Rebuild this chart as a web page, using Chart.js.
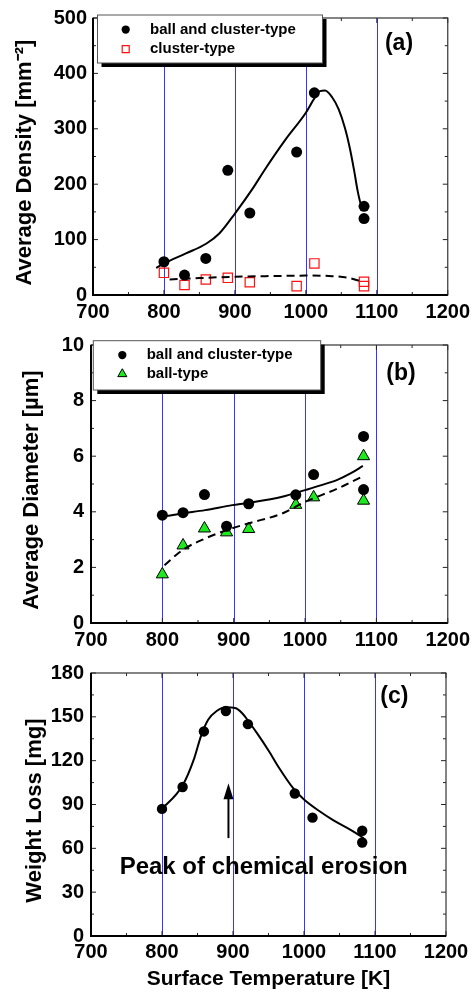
<!DOCTYPE html>
<html>
<head>
<meta charset="utf-8">
<script src="https://cdn.jsdelivr.net/npm/chart.js@4.4.1/dist/chart.umd.min.js"></script>
<style>
  html, body { margin: 0; padding: 0; background: #fff; }
  body { width: 475px; height: 994px; position: relative; overflow: hidden; }
  canvas { position: absolute; left: 0; }
</style>
</head>
<body>
<canvas id="chartA" width="475" height="322" style="top:0px"></canvas>
<canvas id="chartB" width="475" height="330" style="top:322px"></canvas>
<canvas id="chartC" width="475" height="342" style="top:652px"></canvas>
<script>
// measured points, surface temperature [K]
const temperature = [800, 829, 859, 890, 921, 987, 1012, 1082, 1082]
const densityBallCluster = [60, 36, 66, 225, 148, 258, 365, 160, 138]
const densityCluster = [40, 18, 28, 31, 23, 16, 57, 24, 16]
const diameterBallCluster = [3.88, 3.97, 4.62, 3.48, 4.29, 4.61, 5.34, 6.71, 4.80]
const diameterBall = [1.75, 2.79, 3.40, 3.26, 3.38, 4.25, 4.52, 6.00, 4.40]
const weightLoss = [87, 102, 140, 154, 145, 97.5, 81, 72, 64]

// fitted curves
const fitDensityX = [789, 800, 831, 860, 878, 900, 925, 943, 971, 1000, 1012, 1020, 1027, 1037, 1046, 1055, 1062, 1068, 1073, 1077, 1079]
const fitDensityY = [49, 57, 75, 93, 111, 147, 192, 228, 280, 329, 355, 368, 369, 357, 336, 302, 265, 225, 188, 166, 161]
const fitClusterX = [808, 850, 900, 943, 1000, 1037, 1060, 1079]
const fitClusterY = [28, 30.5, 33, 34, 35, 34, 31, 24]
const fitDiamX = [799, 828, 860, 898, 920, 968, 1000, 1023, 1046, 1065, 1081]
const fitDiamY = [3.82, 3.94, 4.06, 4.24, 4.32, 4.54, 4.78, 4.96, 5.16, 5.40, 5.65]
const fitBallX = [803, 828, 860, 890, 920, 968, 1000, 1023, 1046, 1081]
const fitBallY = [2.08, 2.62, 3.04, 3.34, 3.58, 3.94, 4.36, 4.60, 4.84, 5.28]
const fitLossX = [798, 829, 845, 855, 865, 877, 890, 903, 913, 921, 935, 950, 965, 985, 1000, 1023, 1041, 1065, 1084]
const fitLossY = [86, 103, 121, 137, 148, 154, 156.5, 156, 152.5, 147.5, 138, 127, 115, 101, 93.4, 85, 79.3, 72.8, 67]

// annotation arrow in (c): x, y start, y tip
const arrowX = 893.6
const arrowFrom = 67
const arrowTo = 104.6

const xTickLabels = [700, 800, 900, 1000, 1100, 1200]
const blueLines = [800, 900, 1000, 1100]

const FONT = "'Liberation Sans', Arial, sans-serif"
Chart.defaults.font.family = FONT
Chart.defaults.font.weight = 'bold'
Chart.defaults.color = '#000'

const pts = (xs, ys) => xs.map((x, i) => ({ x: x, y: ys[i] }))

function xScale(height, pad, title) {
  return {
    type: 'linear', min: 700, max: 1200,
    afterFit: s => { s.height = height },
    ticks: {
      stepSize: 50, padding: pad, autoSkip: false, maxRotation: 0,
      font: { size: 20, weight: 'bold' }, color: '#000',
      callback: v => xTickLabels.includes(v) ? String(v) : ''
    },
    grid: { display: false, drawTicks: false },
    border: { display: false },
    title: title ? { display: true, text: title, font: { size: 21, weight: 'bold' }, color: '#000', padding: { top: 0, bottom: 2 } } : { display: false }
  }
}

function yScale(max, step, major, width, pad, title, titlePad) {
  return {
    min: 0, max: max,
    afterFit: s => { s.width = width },
    ticks: {
      stepSize: step, padding: pad, autoSkip: false,
      font: { size: 20, weight: 'bold' }, color: '#000',
      callback: v => Math.abs(v / major - Math.round(v / major)) < 1e-6 ? String(v) : ''
    },
    grid: { display: false, drawTicks: false },
    border: { display: false },
    title: { display: true, text: title + '  ', font: { size: 22, weight: 'bold' }, color: '#000', padding: { top: titlePad, bottom: 0 } }
  }
}

// blue reference lines at 800..1100 K
const guidePlugin = {
  id: 'guides',
  beforeDatasetsDraw(chart) {
    const { ctx, chartArea: a } = chart
    const x = chart.scales.x
    ctx.save()
    ctx.strokeStyle = '#3535ff'
    ctx.lineWidth = 1
    blueLines.forEach(v => {
      const p = Math.round(x.getPixelForValue(v)) + 0.5
      ctx.beginPath(); ctx.moveTo(p, a.top); ctx.lineTo(p, a.bottom); ctx.stroke()
    })
    ctx.restore()
  }
}

const framePlugin = {
  id: 'frame',
  afterDatasetsDraw(chart, args, opts) {
    const { ctx, chartArea: a } = chart
    const x = chart.scales.x, y = chart.scales.y
    const seg = (x1, y1, x2, y2) => { ctx.beginPath(); ctx.moveTo(x1, y1); ctx.lineTo(x2, y2); ctx.stroke() }
    ctx.save()
    ctx.strokeStyle = '#222'
    ctx.lineWidth = 1
    x.ticks.forEach(t => {
      const p = x.getPixelForValue(t.value)
      const len = t.value % 100 === 0 ? 5 : 3
      seg(p, a.bottom, p, a.bottom - len)
      seg(p, a.top, p, a.top + len)
    })
    y.ticks.forEach(t => {
      const p = y.getPixelForValue(t.value)
      const r = t.value / opts.yMajor
      const len = Math.abs(r - Math.round(r)) < 1e-6 ? 5 : 3
      seg(a.left, p, a.left + len, p)
      seg(a.right, p, a.right - len, p)
    })
    ctx.strokeStyle = '#333'
    ctx.lineWidth = 1.2
    ctx.strokeRect(a.left, a.top, a.width, a.height)
    ctx.strokeStyle = '#000'
    ctx.lineWidth = 2
    seg(a.left, a.top, a.left, a.bottom + 1)
    seg(a.left - 1, a.bottom, a.right, a.bottom)
    ctx.restore()
  }
}

const decorPlugin = {
  id: 'decor',
  afterDraw(chart, args, opts) {
    const ctx = chart.ctx
    ctx.save()
    if (opts.legend) {
      const L = opts.legend
      ctx.fillStyle = '#000'
      ctx.fillRect(L.x + 4, L.y + 4, L.w, L.h)
      ctx.fillStyle = '#fff'
      ctx.fillRect(L.x, L.y, L.w, L.h)
      ctx.strokeStyle = '#555'
      ctx.lineWidth = 1
      ctx.strokeRect(L.x, L.y, L.w, L.h)
      const items = chart.data.datasets.filter(d => d.label)
      items.forEach((d, i) => {
        const cy = L.rowY + i * L.rowGap
        ctx.fillStyle = d.backgroundColor
        ctx.strokeStyle = d.borderColor
        ctx.lineWidth = d.borderWidth
        Chart.helpers.drawPoint(ctx, { pointStyle: d.pointStyle, radius: d.pointRadius * 0.75, rotation: 0, borderWidth: d.borderWidth }, L.symX, cy)
        ctx.fillStyle = '#000'
        ctx.font = 'bold 15px ' + FONT
        ctx.textAlign = 'left'
        ctx.textBaseline = 'middle'
        ctx.fillText(d.label, L.textX, cy)
      })
    }
    if (opts.tag) {
      ctx.fillStyle = '#000'
      ctx.font = 'bold 23px ' + FONT
      ctx.textAlign = 'center'
      ctx.textBaseline = 'middle'
      ctx.fillText(opts.tag.text, opts.tag.x, opts.tag.y)
    }
    if (opts.arrow) {
      const x = chart.scales.x, y = chart.scales.y
      const px = x.getPixelForValue(opts.arrow.x)
      const y0 = y.getPixelForValue(opts.arrow.from)
      const y1 = y.getPixelForValue(opts.arrow.to)
      ctx.strokeStyle = '#000'
      ctx.fillStyle = '#000'
      ctx.lineWidth = 2
      ctx.beginPath(); ctx.moveTo(px, y0); ctx.lineTo(px, y1 + 12); ctx.stroke()
      ctx.beginPath(); ctx.moveTo(px, y1); ctx.lineTo(px - 5, y1 + 16); ctx.lineTo(px + 5, y1 + 16); ctx.closePath(); ctx.fill()
      ctx.font = 'bold 24px ' + FONT
      ctx.textAlign = 'center'
      ctx.textBaseline = 'middle'
      ctx.fillText(opts.arrow.text, opts.arrow.tx, opts.arrow.ty)
    }
    ctx.restore()
  }
}

function dots(label, ys, style) {
  return Object.assign({
    label: label, data: pts(temperature, ys), showLine: false,
    pointStyle: 'circle', pointRadius: 5.5, backgroundColor: '#000', borderColor: '#000', borderWidth: 0
  }, style)
}

function curve(xs, ys, dash) {
  return {
    data: pts(xs, ys), showLine: true, pointRadius: 0, borderColor: '#000', borderWidth: 2,
    borderDash: dash || [], cubicInterpolationMode: 'monotone', fill: false
  }
}

const common = { responsive: false, animation: false, events: [] }

new Chart(document.getElementById('chartA'), {
  type: 'scatter',
  data: {
    datasets: [
      curve(fitDensityX, fitDensityY),
      curve(fitClusterX, fitClusterY, [8, 5]),
      dots('ball and cluster-type', densityBallCluster),
      dots('cluster-type', densityCluster, { pointStyle: 'rect', pointRadius: 6.6, backgroundColor: 'rgba(0,0,0,0)', borderColor: '#ff1010', borderWidth: 1.2 })
    ]
  },
  options: Object.assign({}, common, {
    layout: { padding: { left: 0, right: 25, top: 17, bottom: 0 } },
    scales: {
      x: xScale(27, 5),
      y: yScale(500, 50, 100, 93, 6, 'Average Density [mm\u207B\u00B2]', 12)
    },
    plugins: {
      legend: { display: false }, tooltip: { enabled: false },
      frame: { yMajor: 100 },
      decor: {
        legend: { x: 97.5, y: 15, w: 225, h: 48, rowY: 29.5, rowGap: 19.7, symX: 125.7, textX: 150 },
        tag: { text: '(a)', x: 399, y: 43.5 }
      }
    }
  }),
  plugins: [guidePlugin, framePlugin, decorPlugin]
})

new Chart(document.getElementById('chartB'), {
  type: 'scatter',
  data: {
    datasets: [
      curve(fitDiamX, fitDiamY),
      curve(fitBallX, fitBallY, [8, 5]),
      dots('ball and cluster-type', diameterBallCluster),
      dots('ball-type', diameterBall, { pointStyle: 'triangle', pointRadius: 7, backgroundColor: '#1ee81e', borderColor: '#000', borderWidth: 1 })
    ]
  },
  options: Object.assign({}, common, {
    layout: { padding: { left: 0, right: 24, top: 23, bottom: 0 } },
    scales: {
      x: xScale(29, 5),
      y: yScale(10, 1, 2, 91, 7, 'Average Diameter [\u00B5m]', 19)
    },
    plugins: {
      legend: { display: false }, tooltip: { enabled: false },
      frame: { yMajor: 2 },
      decor: {
        legend: { x: 93.3, y: 18.7, w: 227.4, h: 49.3, rowY: 33, rowGap: 19, symX: 122.3, textX: 146.7 },
        tag: { text: '(b)', x: 401, y: 51.3 }
      }
    }
  }),
  plugins: [guidePlugin, framePlugin, decorPlugin]
})

new Chart(document.getElementById('chartC'), {
  type: 'scatter',
  data: {
    datasets: [
      curve(fitLossX, fitLossY),
      dots('', weightLoss, { pointRadius: 5.2 })
    ]
  },
  options: Object.assign({}, common, {
    layout: { padding: { left: 0, right: 29, top: 21, bottom: 0 } },
    scales: {
      x: xScale(58, 4, 'Surface Temperature [K]'),
      y: yScale(180, 15, 30, 91, 7, 'Weight Loss [mg]', 22)
    },
    plugins: {
      legend: { display: false }, tooltip: { enabled: false },
      frame: { yMajor: 30 },
      decor: {
        tag: { text: '(c)', x: 394.3, y: 44.7 },
        arrow: { x: arrowX, from: arrowFrom, to: arrowTo, text: 'Peak of chemical erosion', tx: 263.7, ty: 215 }
      }
    }
  }),
  plugins: [guidePlugin, framePlugin, decorPlugin]
})
</script>
</body>
</html>
